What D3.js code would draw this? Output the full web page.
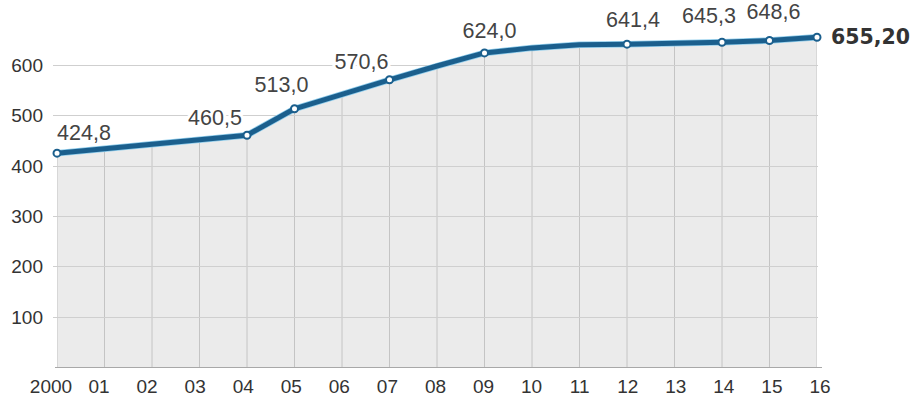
<!DOCTYPE html>
<html><head><meta charset="utf-8">
<script src="https://cdn.jsdelivr.net/npm/d3@7"></script>
<style>body{margin:0;background:#fff}svg{display:block}</style>
</head><body>
<svg id="c" width="916" height="401"></svg>
<script>
// Data
const years  = [2000, 2004, 2005, 2007, 2008, 2009, 2010, 2011, 2012, 2014, 2015, 2016];
const values = [424.8, 460.5, 513.0, 570.6, 598, 624.0, 634, 640, 641.4, 645.3, 648.6, 655.2];
const marked = [true, true, true, true, false, true, false, false, true, true, true, true];
const labelText = ["424,8", "460,5", "513,0", "570,6", "", "624,0", "", "", "641,4", "645,3", "648,6", "655,20"];
const tickYears = d3.range(2000, 2017);
const tickLabels = ["2000","01","02","03","04","05","06","07","08","09","10","11","12","13","14","15","16"];
const yTicks = [100, 200, 300, 400, 500, 600];

const svg = d3.select("#c");
const x = d3.scaleLinear().domain([2000, 2016]).range([57, 817]);
const xLab = d3.scaleLinear().domain([2000, 2016]).range([51, 820]);
const y = d3.scaleLinear().domain([0, 600]).range([367, 65]);

const pts = years.map((yr, i) => ({yr, v: values[i], m: marked[i], t: labelText[i]}));

const area = d3.area().x(d => x(d.yr)).y0(y(0)).y1(d => y(d.v));
const line = d3.line().x(d => x(d.yr)).y(d => y(d.v));

svg.append("defs").append("clipPath").attr("id", "ac")
  .append("path").attr("d", area(pts));

svg.append("path").attr("d", area(pts)).attr("fill", "#ebebeb");

// vertical gridlines (clipped to area)
svg.append("g").attr("clip-path", "url(#ac)")
  .selectAll("line").data(tickYears).join("line")
  .attr("x1", d => x(d)).attr("x2", d => x(d))
  .attr("y1", y(0)).attr("y2", 0)
  .attr("stroke", "#c4c4c4").attr("stroke-width", 1);

// horizontal gridlines
svg.append("g").selectAll("line").data(yTicks).join("line")
  .attr("x1", 53).attr("x2", 818)
  .attr("y1", d => Math.round(y(d)) + 0.5).attr("y2", d => Math.round(y(d)) + 0.5)
  .attr("stroke", "#cfcfcf").attr("stroke-width", 1);

// baseline
svg.append("line").attr("x1", 55).attr("x2", 822)
  .attr("y1", Math.round(y(0)) + 0.5).attr("y2", Math.round(y(0)) + 0.5)
  .attr("stroke", "#a8a8a8").attr("stroke-width", 1.2);

// y tick labels
svg.append("g").selectAll("text").data(yTicks).join("text")
  .attr("x", 43).attr("y", d => y(d) + 7)
  .attr("text-anchor", "end")
  .attr("font-family", "Liberation Sans, Arial, sans-serif")
  .attr("font-size", 19).attr("fill", "#333")
  .text(d => d);

// x tick labels
svg.append("g").selectAll("text").data(tickYears).join("text")
  .attr("x", d => xLab(d)).attr("y", 393)
  .attr("text-anchor", "middle")
  .attr("font-family", "Liberation Sans, Arial, sans-serif")
  .attr("font-size", 19).attr("fill", "#333")
  .text((d, i) => tickLabels[i]);

// value labels (with white halo), positions offset relative to the marker
const lab = pts.filter(d => d.t);
const offs = {2000: [27, -13], 2004: [-32, -10], 2005: [-13, -17], 2007: [-28, -11], 2009: [5, -15], 2012: [6, -17], 2014: [-13, -19], 2015: [4, -22]};
svg.append("g").selectAll("text").data(lab.filter(d => d.yr !== 2016)).join("text")
  .attr("x", d => x(d.yr) + offs[d.yr][0]).attr("y", d => y(d.v) + offs[d.yr][1])
  .attr("text-anchor", "middle")
  .attr("font-family", "Liberation Sans, Arial, sans-serif")
  .attr("font-size", 21.5).attr("fill", "#444")
  .attr("stroke", "#fff").attr("stroke-width", 6).attr("paint-order", "stroke")
  .attr("stroke-linejoin", "round")
  .text(d => d.t);

// line
svg.append("path").attr("d", line(pts)).attr("fill", "none")
  .attr("stroke", "#8fcdec").attr("stroke-width", 6.5).attr("stroke-linejoin", "round");
svg.append("path").attr("d", line(pts)).attr("fill", "none")
  .attr("stroke", "#1b5f8d").attr("stroke-width", 5).attr("stroke-linejoin", "round");

// markers
svg.append("g").selectAll("circle").data(pts.filter(d => d.m)).join("circle")
  .attr("cx", d => x(d.yr)).attr("cy", d => y(d.v)).attr("r", 3.5)
  .attr("fill", "#fff").attr("stroke", "#1b5f8d").attr("stroke-width", 2);

// last value label (bold)
const last = pts[pts.length - 1];
svg.append("text").attr("x", x(last.yr) + 14).attr("y", y(last.v) + 7)
  .attr("font-family", "DejaVu Sans, Verdana, sans-serif")
  .attr("font-weight", "bold").attr("font-size", 20.5).attr("fill", "#333")
  .text(last.t);
</script>
</body></html>
